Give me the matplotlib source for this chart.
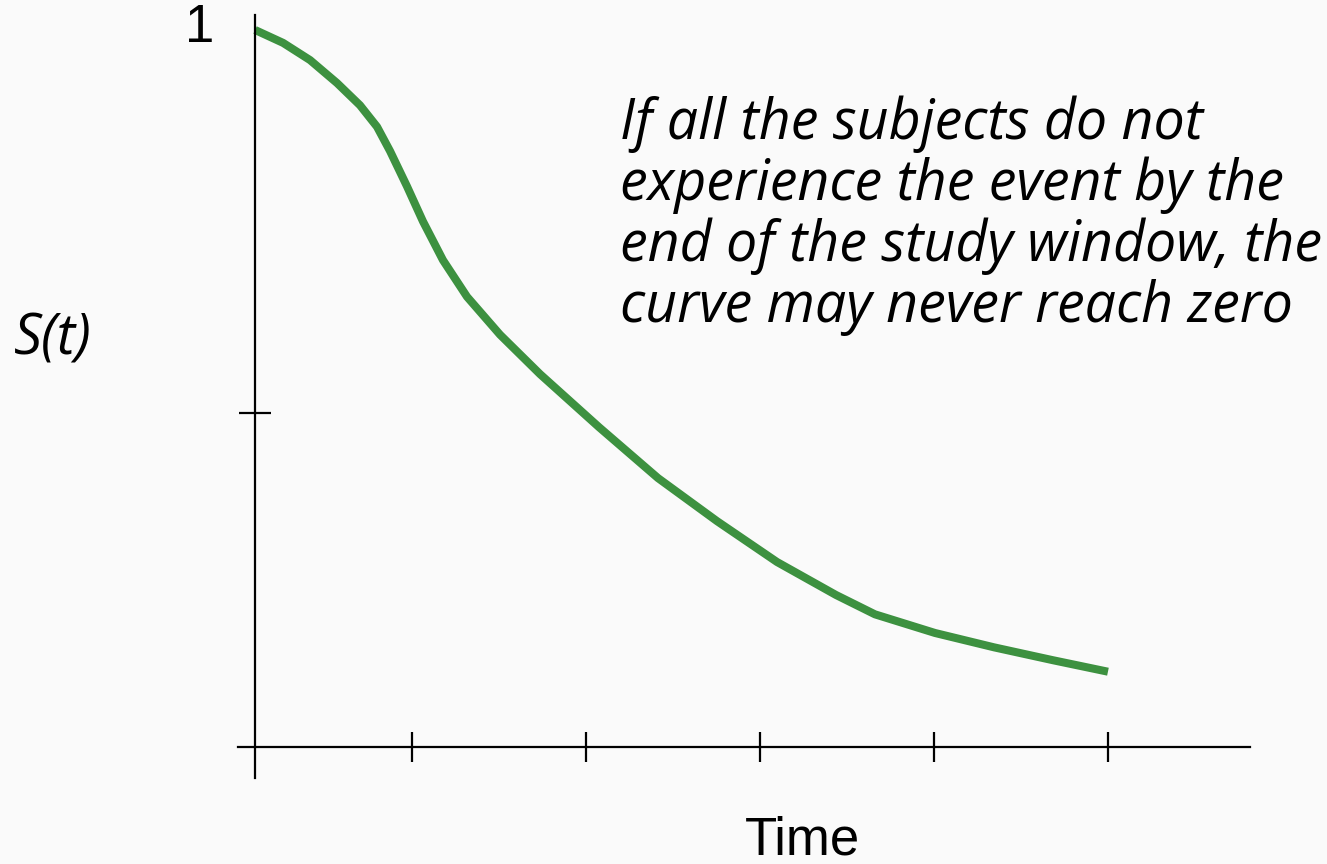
import numpy as np
import matplotlib.pyplot as plt

# Survival curve (time units, S(t))
t_vals = [0.098, 0.259, 0.414, 0.569, 0.701, 0.799, 0.874, 0.971, 1.063,
          1.178, 1.316, 1.506, 1.736, 2.075, 2.414, 2.753, 3.098, 3.437,
          3.661, 4.006, 4.345, 4.684, 5.000]
s_vals = [1.000, 0.982, 0.958, 0.926, 0.895, 0.865, 0.831, 0.782, 0.733,
          0.679, 0.628, 0.575, 0.520, 0.446, 0.375, 0.315, 0.258, 0.212,
          0.185, 0.159, 0.139, 0.121, 0.105]

x_ticks = [1, 2, 3, 4, 5]
y_ticks = [0.466]
y_axis_x = 0.098

note = ("If all the subjects do not\n"
        "experience the event by the\n"
        "end of the study window, the\n"
        "curve may never reach zero")

green = "#3d9140"
bg = "#fafafa"

fig = plt.figure(figsize=(13.27, 8.64), dpi=100, facecolor=bg)
ax = fig.add_axes([0, 0, 1, 1])
ax.set_facecolor(bg)
ax.set_xlim(-1.368, 6.259)
ax.set_ylim(-0.1632, 1.0418)

ax.plot(t_vals, s_vals, color=green, lw=5.8, solid_capstyle="butt",
        solid_joinstyle="round")

# axes drawn as crossing lines
for s in ["top", "right"]:
    ax.spines[s].set_visible(False)
ax.spines["left"].set_position(("data", y_axis_x))
ax.spines["bottom"].set_position(("data", 0))
ax.spines["left"].set_bounds(-0.043, 1.021)
ax.spines["bottom"].set_bounds(0, 5.816)
for s in ["left", "bottom"]:
    ax.spines[s].set_linewidth(1.6)
    ax.spines[s].set_color("black")

ax.set_xticks(x_ticks)
ax.set_yticks(y_ticks)
ax.set_xticklabels([])
ax.set_yticklabels([])
ax.tick_params(axis="x", direction="inout", length=21, width=1.6)
ax.tick_params(axis="y", direction="inout", length=23, width=1.6)

ax.text(-0.218, 1.003, "1", fontsize=38, family="Liberation Sans",
        ha="center", va="center")
ax.text(3.247, -0.150, "Time", fontsize=38, family="Liberation Sans",
        ha="center", va="baseline")
ax.text(-1.063, 0.568, "S(t)", fontsize=40, family="Open Sans",
        style="italic", ha="center", va="center")
ax.text(2.195, 0.908, note, fontsize=40, family="Open Sans", style="italic",
        ha="left", va="top", linespacing=1.08)

fig.savefig("out.png", dpi=100, facecolor=bg)
